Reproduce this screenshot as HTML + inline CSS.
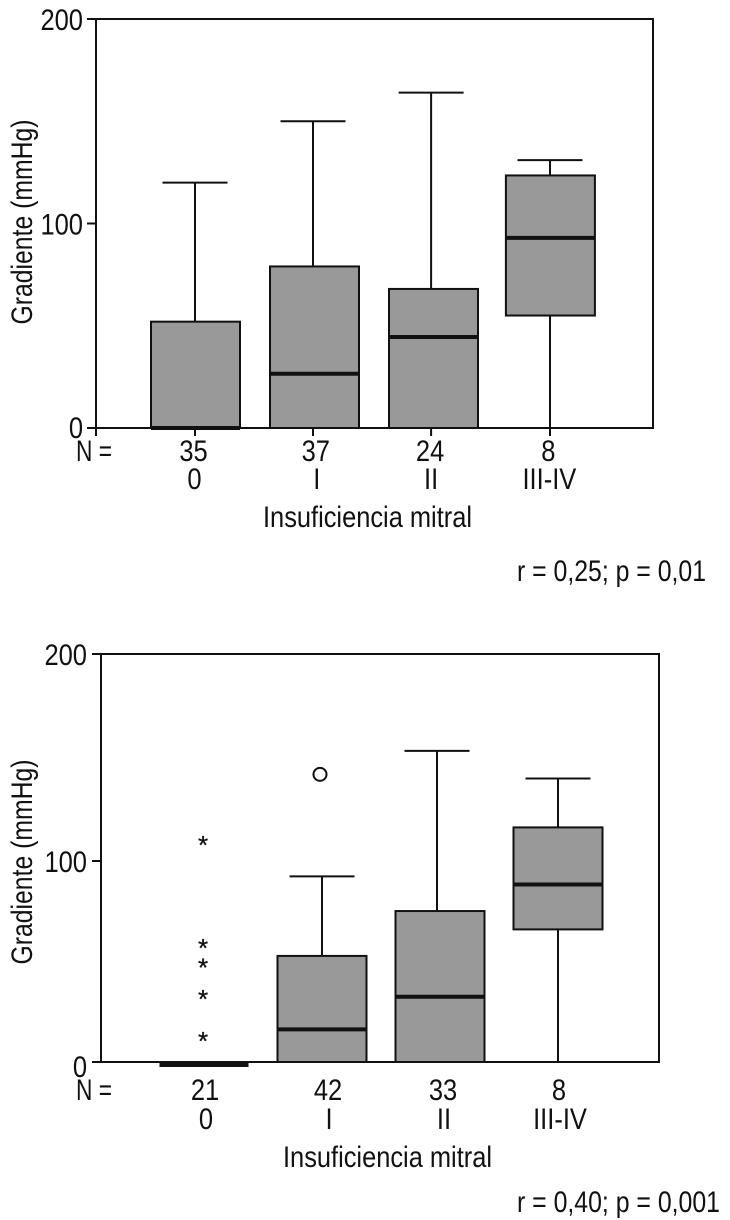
<!DOCTYPE html>
<html lang="es">
<head>
<meta charset="utf-8">
<title>Gradiente por insuficiencia mitral</title>
<style>
html,body{margin:0;padding:0;background:#fff;}
svg{display:block;}
text{font-family:"Liberation Sans",sans-serif;font-size:30px;fill:#111;}
</style>
</head>
<body>
<svg id="figure" width="730" height="1220" viewBox="0 0 730 1220" xmlns="http://www.w3.org/2000/svg"></svg>
<script>
const yTickValues = [0, 100, 200];
const categoryLabels = ['0', 'I', 'II', 'III-IV'];

const topN = [35, 37, 24, 8];
const topQ1 = [0, 0, 0, 55];
const topMedian = [0, 26.5, 44.5, 93];
const topQ3 = [52, 79, 68, 123.5];
const topWhiskerLow = [0, 0, 0, 0];
const topWhiskerHigh = [120, 150, 164, 131];

const bottomN = [21, 42, 33, 8];
const bottomQ1 = [-1.5, 0, 0, 65];
const bottomMedian = [-1.5, 16, 32, 87];
const bottomQ3 = [-1.5, 52, 74, 115];
const bottomWhiskerLow = [-1.5, 0, 0, 0];
const bottomWhiskerHigh = [-1.5, 91, 152.5, 139];
const bottomStarOutliers = [108, 57.5, 48, 32.5, 12];
const bottomCircleOutliers = [141];

const svg = document.getElementById('figure');
const NS = 'http://www.w3.org/2000/svg';

function mk(parent, tag, attrs, name) {
  const el = document.createElementNS(NS, tag);
  for (const k in attrs) el.setAttribute(k, attrs[k]);
  
  
  parent.appendChild(el);
  return el;
}
function line(parent, x1, y1, x2, y2, w, name) {
  return mk(parent, 'line', {x1, y1, x2, y2, stroke: '#111', 'stroke-width': w}, name);
}
function label(parent, str, x, y, anchor, len, name) {
  const el = mk(parent, 'text', {x, y, 'text-anchor': anchor}, name);
  el.textContent = str;
  const target = len || el.getComputedTextLength() * 0.85;
  el.setAttribute('textLength', target);
  el.setAttribute('lengthAdjust', 'spacingAndGlyphs');
  return el;
}

function drawChart(c) {
  const g = mk(svg, 'g', {}, c.name);
  const yScale = v => c.y0 - v * (c.y0 - c.y200) / 200;
  const xScale = i => c.xFirst + c.xStep * i;

  mk(g, 'rect', {x: c.left, y: c.y200, width: c.right - c.left, height: c.y0 - c.y200, fill: '#fff', stroke: '#111', 'stroke-width': 2}, 'plot-frame');

  yTickValues.forEach(t => {
    const y = yScale(t) + (t === 100 ? c.midTickShift : 0);
    line(g, c.tickStart, y, c.left, y, 2, 'y-tick-' + t);
    const lift = (t === 0) ? c.zeroBaseline : 11;
    label(g, String(t), c.tickStart - c.labelGap, y + lift, 'end', 0, 'y-tick-label-' + t);
  });

  const title = label(g, 'Gradiente (mmHg)', 0, 0, 'middle', 205, 'y-axis-title');
  title.setAttribute('transform', 'translate(32,' + c.titleY + ') rotate(-90)');

  if (c.bottomTicks) {
    line(g, c.left, c.y0, c.left, c.y0 + 8, 2, 'axis-corner-tick');
  }

  c.n.forEach((n, i) => {
    const cx = xScale(i) + c.boxNudge[i];
    const wx = xScale(i) + c.whiskerNudge[i];
    const box = mk(g, 'g', {}, 'box-group-' + categoryLabels[i]);
    const degenerate = c.q3[i] === c.q1[i];

    if (!degenerate) {
      line(box, wx, yScale(c.whiskerHigh[i]), wx, yScale(c.q3[i]), 2, 'upper-whisker');
      line(box, wx - c.capHalf, yScale(c.whiskerHigh[i]), wx + c.capHalf, yScale(c.whiskerHigh[i]), 2, 'upper-whisker-cap');
      if (c.q1[i] > c.whiskerLow[i]) {
        line(box, wx, yScale(c.q1[i]), wx, yScale(c.whiskerLow[i]), 2, 'lower-whisker');
      }
      mk(box, 'rect', {
        x: cx - c.boxHalf, y: yScale(c.q3[i]), width: c.boxHalf * 2,
        height: yScale(c.q1[i]) - yScale(c.q3[i]),
        fill: '#999', stroke: '#111', 'stroke-width': 2
      }, 'interquartile-box');
    }
    line(box, cx - c.boxHalf, yScale(c.median[i]), cx + c.boxHalf, yScale(c.median[i]), 4, 'median-line');

    if (c.bottomTicks) {
      line(g, wx, c.y0, wx, c.y0 + 8, 2, 'x-tick-' + categoryLabels[i]);
    }
    const lx = xScale(i) + c.labelNudge[i];
    label(g, String(n), lx, c.nBaseline, 'middle', 0, 'n-count-' + categoryLabels[i]);
    label(g, categoryLabels[i], lx + 1, c.catBaseline, 'middle', 0, 'category-label-' + categoryLabels[i]);
  });

  label(g, 'N =', 76, c.nBaseline, 'start', 36, 'n-label');
  label(g, 'Insuficiencia mitral', c.xTitleX, c.xTitleBaseline, 'start', 209, 'x-axis-title');
  label(g, c.stat, 517, c.statBaseline, 'start', c.statLen, 'correlation-note');

  (c.stars || []).forEach((v, k) => {
    const s = mk(g, 'text', {x: xScale(0) - 1, y: yScale(v) + 12.5, 'text-anchor': 'middle', stroke: '#111', 'stroke-width': 0.3, style: 'font-size:26px'}, 'outlier-star-' + k);
    s.textContent = '*';
  });
  (c.circles || []).forEach((v, k) => {
    mk(g, 'circle', {cx: xScale(1) - 2, cy: yScale(v), r: 6.5, fill: '#fff', stroke: '#111', 'stroke-width': 2}, 'outlier-circle-' + k);
  });
}

drawChart({
  name: 'top-chart', left: 96, right: 653, y0: 428, y200: 19, xFirst: 195.5, xStep: 118.3,
  boxHalf: 44.5, capHalf: 32.5, tickStart: 87, labelGap: 4, zeroBaseline: 10, titleY: 222, midTickShift: 0,
  bottomTicks: true, nBaseline: 461, catBaseline: 489, xTitleX: 263, xTitleBaseline: 527,
  stat: 'r = 0,25; p = 0,01', statBaseline: 581, statLen: 189,
  boxNudge: [0, 0.7, 1.4, 0], whiskerNudge: [-0.5, -0.8, -1, -0.4], labelNudge: [-2, 2, -2, -2],
  n: topN, q1: topQ1, median: topMedian, q3: topQ3, whiskerLow: topWhiskerLow, whiskerHigh: topWhiskerHigh
});

drawChart({
  name: 'bottom-chart', left: 101, right: 659, y0: 1062, y200: 654, xFirst: 204, xStep: 118,
  boxHalf: 44.5, capHalf: 32.5, tickStart: 92, labelGap: 5, zeroBaseline: 15, titleY: 862, midTickShift: 3,
  bottomTicks: false, nBaseline: 1100, catBaseline: 1129, xTitleX: 283, xTitleBaseline: 1167,
  stat: 'r = 0,40; p = 0,001', statBaseline: 1212, statLen: 203,
  boxNudge: [0, 0, 0, 0], whiskerNudge: [0, 0, -3, 0], labelNudge: [1, 6, 3, 1],
  n: bottomN, q1: bottomQ1, median: bottomMedian, q3: bottomQ3, whiskerLow: bottomWhiskerLow, whiskerHigh: bottomWhiskerHigh,
  stars: bottomStarOutliers, circles: bottomCircleOutliers
});
</script>
</body>
</html>
